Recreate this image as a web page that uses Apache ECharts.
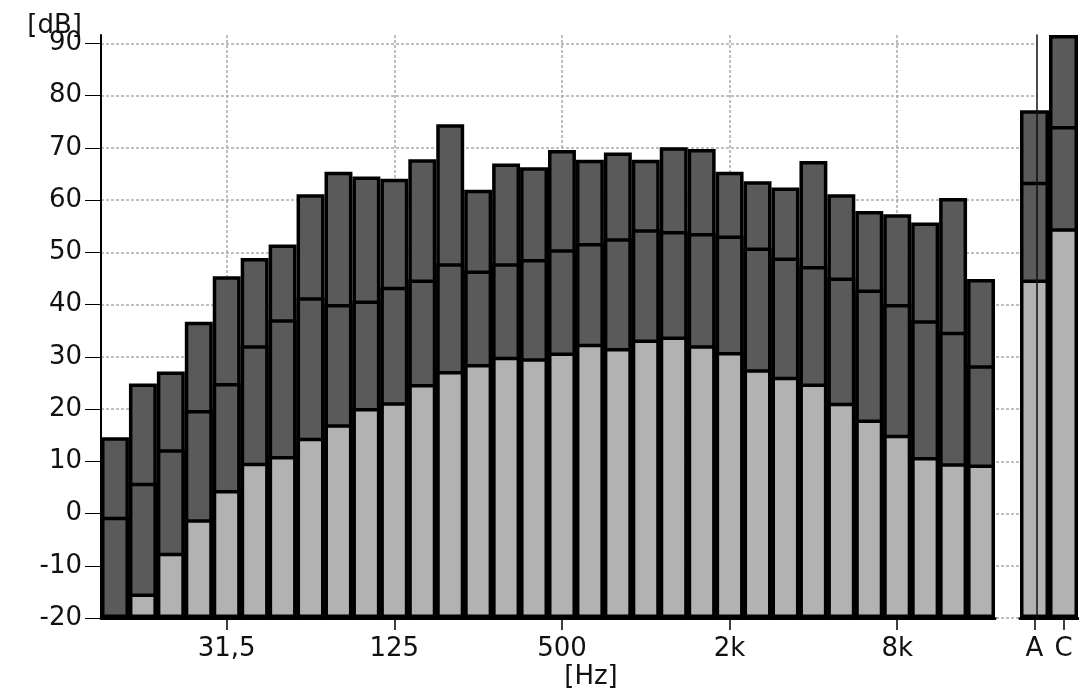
<!DOCTYPE html>
<html>
<head>
<meta charset="utf-8">
<script src="https://cdn.jsdelivr.net/npm/echarts@6/dist/echarts.min.js"></script>
<style>
  html, body { margin: 0; padding: 0; background: #ffffff; }
  #chart { width: 1079px; height: 688px; }
</style>
</head>
<body>
<div id="chart"></div>
<script>
// 1/3-octave band centre frequencies (12.5 Hz ... 16 kHz)
const bands = ['12,5','16','20','25','31,5','40','50','63','80','100','125','160','200','250','315','400','500','630','800','1k','1,25k','1,6k','2k','2,5k','3,15k','4k','5k','6,3k','8k','10k','12,5k','16k'];
const shownBandLabels = ['31,5','125','500','2k','8k'];

// level boundaries [dB]
const topLevels = [14.6,24.9,27.2,36.7,45.4,48.9,51.5,61.1,65.4,64.5,64.1,67.8,74.5,62.0,67.0,66.3,69.6,67.7,69.1,67.7,70.1,69.8,65.4,63.6,62.4,67.5,61.1,57.9,57.3,55.7,60.4,44.9];
const midLevels = [-0.6,5.9,12.3,19.8,25.0,32.2,37.2,41.4,40.1,40.8,43.4,44.8,47.9,46.5,47.9,48.7,50.6,51.8,52.7,54.4,54.1,53.7,53.2,50.9,49.0,47.4,45.2,42.9,40.1,37.0,34.8,28.4];
const lowLevels = [null,-15.3,-7.5,-1.1,4.5,9.7,11.0,14.5,17.1,20.2,21.3,24.8,27.3,28.6,30.0,29.7,30.8,32.5,31.7,33.3,33.9,32.2,30.9,27.6,26.2,24.9,21.2,18.0,15.1,10.8,9.6,9.4];

// overall weighted levels
const totals = ['A','C'];
const totalTop = [77.2, 91.6];
const totalMid = [63.5, 74.2];
const totalLow = [44.8, 54.6];

// y axis
const yTickLabels = [-20,-10,0,10,20,30,40,50,60,70,80,90];
const AXIS_FLOOR = -20;
const AXIS_CEIL = 91.6;

const DARK = '#5a5a5a';
const LIGHT = '#b2b2b2';
const GRID_COLOR = '#ababab';
const FONT = 'DejaVu Sans';

const shift = v => (v === null ? null : v - AXIS_FLOOR);
const yMax = AXIS_CEIL - AXIS_FLOOR;
const yCustom = yTickLabels.map(v => v - AXIS_FLOOR);
const isShownBand = (idx, val) => shownBandLabels.indexOf(val !== undefined ? val : bands[idx]) >= 0;

function barSeries(name, data, color, xi, yi) {
  return {
    name: name,
    type: 'bar',
    xAxisIndex: xi,
    yAxisIndex: yi,
    data: data.map(shift),
    barGap: '-100%',
    barCategoryGap: '0%',
    itemStyle: { color: color, borderColor: '#000', borderWidth: 3.5 },
    emphasis: { disabled: true },
    silent: true,
    animation: false
  };
}

const labelStyle = { fontFamily: FONT, fontSize: 26, color: '#111' };

const option = {
  backgroundColor: '#ffffff',
  animation: false,
  grid: [
    { left: 101, top: 35, width: 936, height: 583, outerBoundsMode: 'none' },
    { left: 101, top: 35, width: 894, height: 583, outerBoundsMode: 'none' },
    { left: 1020, top: 35, width: 58, height: 583, outerBoundsMode: 'none' }
  ],
  xAxis: [
    { gridIndex: 0, type: 'value', min: 0, max: 1, show: false },
    {
      gridIndex: 1, type: 'category', data: bands, boundaryGap: true,
      axisLine: { show: true, lineStyle: { color: '#000', width: 3 } },
      axisTick: { show: true, alignWithLabel: true, interval: isShownBand, length: 12, lineStyle: { color: '#000', width: 1.5 } },
      axisLabel: Object.assign({ interval: isShownBand, margin: 18 }, labelStyle),
      splitLine: { show: true, alignWithLabel: true, interval: isShownBand, lineStyle: { color: GRID_COLOR, width: 1.5, type: [3, 2] } },
      name: '[Hz]', nameLocation: 'middle', nameGap: 46, nameMoveOverlap: false,
      nameTextStyle: Object.assign({ padding: [0, 0, 0, 86] }, labelStyle)
    },
    {
      gridIndex: 2, type: 'category', data: totals, boundaryGap: true,
      axisLine: { show: true, lineStyle: { color: '#000', width: 3 } },
      axisTick: { show: true, alignWithLabel: true, length: 12, lineStyle: { color: '#000', width: 1.5 } },
      axisLabel: Object.assign({ interval: 0, margin: 18 }, labelStyle),
      splitLine: { show: false }
    }
  ],
  yAxis: [
    {
      gridIndex: 0, type: 'value', min: 0, max: yMax, interval: 10,
      axisLine: { show: false }, axisTick: { show: false }, axisLabel: { show: false },
      splitLine: { show: true, showMaxLine: false, lineStyle: { color: GRID_COLOR, width: 1.5, type: [3, 2] } }
    },
    {
      gridIndex: 0, type: 'value', position: 'right', min: 0, max: yMax, interval: 10, z: 5,
      axisLine: { show: true, lineStyle: { color: '#111', width: 1.5 } },
      axisTick: { show: false }, axisLabel: { show: false }, splitLine: { show: false }
    },
    {
      gridIndex: 1, type: 'value', min: 0, max: yMax, interval: 10,
      name: '[dB]', nameLocation: 'end', nameGap: -4, nameMoveOverlap: false,
      nameTextStyle: Object.assign({ align: 'right', verticalAlign: 'bottom', padding: [0, 19, 0, 0] }, labelStyle),
      axisLine: { show: true, onZero: false, lineStyle: { color: '#000', width: 2 } },
      axisTick: { show: true, customValues: yCustom, length: 16, lineStyle: { color: '#000', width: 1 } },
      axisLabel: Object.assign({ customValues: yCustom, margin: 19, formatter: v => String(Math.round(v + AXIS_FLOOR)) }, labelStyle),
      splitLine: { show: false }
    },
    { gridIndex: 2, type: 'value', min: 0, max: yMax, interval: 10, show: false }
  ],
  series: [
    barSeries('top', topLevels, DARK, 1, 2),
    barSeries('mid', midLevels, DARK, 1, 2),
    barSeries('low', lowLevels, LIGHT, 1, 2),
    barSeries('totalTop', totalTop, DARK, 2, 3),
    barSeries('totalMid', totalMid, DARK, 2, 3),
    barSeries('totalLow', totalLow, LIGHT, 2, 3)
  ]
};

const chart = echarts.init(document.getElementById('chart'), null, { renderer: 'canvas' });
chart.setOption(option);
</script>
</body>
</html>
